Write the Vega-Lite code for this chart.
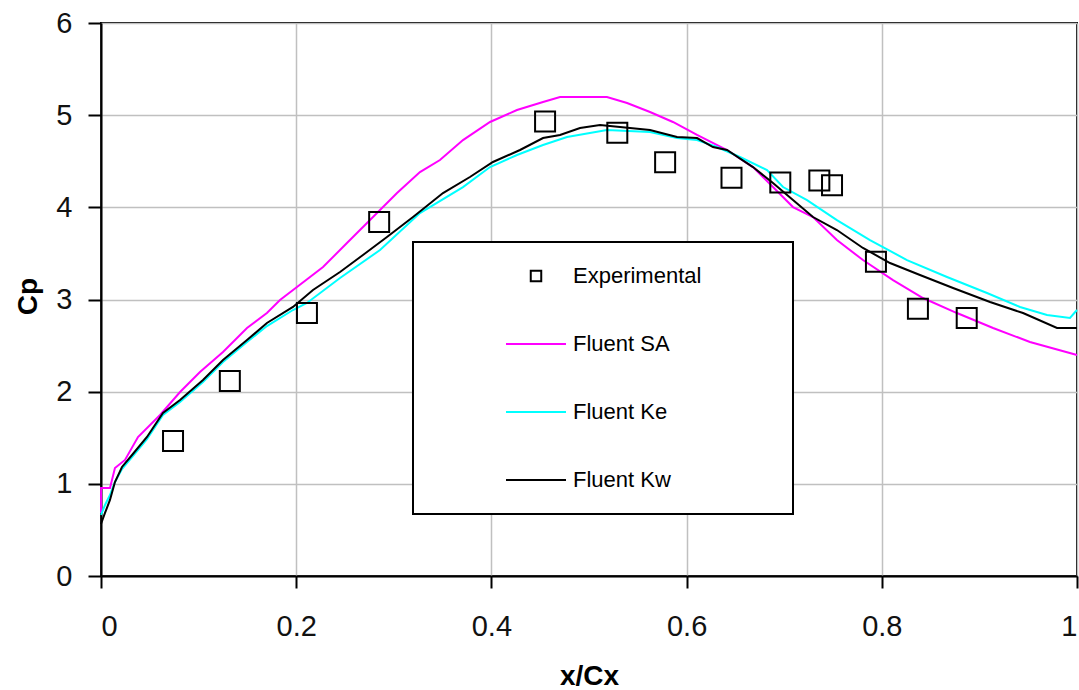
{
  "$schema": "https://vega.github.io/schema/vega-lite/v6.json",
  "width": 976,
  "height": 553,
  "autosize": {"type": "none"},
  "padding": {"left": 101, "top": 23, "right": 2, "bottom": 114},
  "background": "white",
  "config": {
    "view": {"stroke": "black", "strokeWidth": 2},
    "font": "Liberation Sans",
    "axis": {
      "gridColor": "#c0c0c0",
      "gridWidth": 1.5,
      "domainColor": "black",
      "domainWidth": 2,
      "tickColor": "black",
      "tickWidth": 2,
      "labelFont": "Liberation Sans",
      "labelFontSize": 29,
      "labelColor": "#111111",
      "titleFont": "Liberation Sans",
      "titleFontSize": 28,
      "titleFontWeight": "bold",
      "titleColor": "black"
    }
  },
  "datasets": {
    "curves": [
      {"series": "Fluent SA", "x": 0, "cp": 0.684},
      {"series": "Fluent SA", "x": 0.0001, "cp": 0.955},
      {"series": "Fluent SA", "x": 0.0092, "cp": 0.955},
      {"series": "Fluent SA", "x": 0.0143, "cp": 1.172},
      {"series": "Fluent SA", "x": 0.0246, "cp": 1.259},
      {"series": "Fluent SA", "x": 0.0379, "cp": 1.508},
      {"series": "Fluent SA", "x": 0.0605, "cp": 1.747},
      {"series": "Fluent SA", "x": 0.081, "cp": 1.996},
      {"series": "Fluent SA", "x": 0.1014, "cp": 2.213},
      {"series": "Fluent SA", "x": 0.125, "cp": 2.43},
      {"series": "Fluent SA", "x": 0.1496, "cp": 2.691},
      {"series": "Fluent SA", "x": 0.17, "cp": 2.853},
      {"series": "Fluent SA", "x": 0.1834, "cp": 2.994},
      {"series": "Fluent SA", "x": 0.2008, "cp": 3.136},
      {"series": "Fluent SA", "x": 0.2275, "cp": 3.352},
      {"series": "Fluent SA", "x": 0.252, "cp": 3.613},
      {"series": "Fluent SA", "x": 0.2787, "cp": 3.895},
      {"series": "Fluent SA", "x": 0.3033, "cp": 4.155},
      {"series": "Fluent SA", "x": 0.3268, "cp": 4.383},
      {"series": "Fluent SA", "x": 0.3473, "cp": 4.513},
      {"series": "Fluent SA", "x": 0.3709, "cp": 4.73},
      {"series": "Fluent SA", "x": 0.3986, "cp": 4.926},
      {"series": "Fluent SA", "x": 0.4262, "cp": 5.056},
      {"series": "Fluent SA", "x": 0.4529, "cp": 5.143},
      {"series": "Fluent SA", "x": 0.4703, "cp": 5.197},
      {"series": "Fluent SA", "x": 0.5184, "cp": 5.197},
      {"series": "Fluent SA", "x": 0.539, "cp": 5.132},
      {"series": "Fluent SA", "x": 0.5625, "cp": 5.034},
      {"series": "Fluent SA", "x": 0.586, "cp": 4.926},
      {"series": "Fluent SA", "x": 0.6107, "cp": 4.785},
      {"series": "Fluent SA", "x": 0.6414, "cp": 4.622},
      {"series": "Fluent SA", "x": 0.668, "cp": 4.437},
      {"series": "Fluent SA", "x": 0.6885, "cp": 4.22},
      {"series": "Fluent SA", "x": 0.709, "cp": 4.003},
      {"series": "Fluent SA", "x": 0.7295, "cp": 3.895},
      {"series": "Fluent SA", "x": 0.754, "cp": 3.645},
      {"series": "Fluent SA", "x": 0.7807, "cp": 3.428},
      {"series": "Fluent SA", "x": 0.8115, "cp": 3.211},
      {"series": "Fluent SA", "x": 0.8422, "cp": 3.016},
      {"series": "Fluent SA", "x": 0.877, "cp": 2.853},
      {"series": "Fluent SA", "x": 0.914, "cp": 2.691},
      {"series": "Fluent SA", "x": 0.9518, "cp": 2.539},
      {"series": "Fluent SA", "x": 1.0, "cp": 2.398},
      {"series": "Fluent Ke", "x": 0, "cp": 0.662},
      {"series": "Fluent Ke", "x": 0.0041, "cp": 0.77},
      {"series": "Fluent Ke", "x": 0.0092, "cp": 0.879},
      {"series": "Fluent Ke", "x": 0.0143, "cp": 1.02},
      {"series": "Fluent Ke", "x": 0.0215, "cp": 1.161},
      {"series": "Fluent Ke", "x": 0.0318, "cp": 1.291},
      {"series": "Fluent Ke", "x": 0.0471, "cp": 1.486},
      {"series": "Fluent Ke", "x": 0.0635, "cp": 1.747},
      {"series": "Fluent Ke", "x": 0.081, "cp": 1.888},
      {"series": "Fluent Ke", "x": 0.1045, "cp": 2.105},
      {"series": "Fluent Ke", "x": 0.125, "cp": 2.322},
      {"series": "Fluent Ke", "x": 0.1496, "cp": 2.539},
      {"series": "Fluent Ke", "x": 0.17, "cp": 2.712},
      {"series": "Fluent Ke", "x": 0.1967, "cp": 2.886},
      {"series": "Fluent Ke", "x": 0.211, "cp": 2.962},
      {"series": "Fluent Ke", "x": 0.2449, "cp": 3.233},
      {"series": "Fluent Ke", "x": 0.2859, "cp": 3.537},
      {"series": "Fluent Ke", "x": 0.3268, "cp": 3.938},
      {"series": "Fluent Ke", "x": 0.3709, "cp": 4.22},
      {"series": "Fluent Ke", "x": 0.3986, "cp": 4.437},
      {"series": "Fluent Ke", "x": 0.4262, "cp": 4.568},
      {"series": "Fluent Ke", "x": 0.4529, "cp": 4.676},
      {"series": "Fluent Ke", "x": 0.4775, "cp": 4.763},
      {"series": "Fluent Ke", "x": 0.5184, "cp": 4.839},
      {"series": "Fluent Ke", "x": 0.5625, "cp": 4.817},
      {"series": "Fluent Ke", "x": 0.5902, "cp": 4.752},
      {"series": "Fluent Ke", "x": 0.6107, "cp": 4.73},
      {"series": "Fluent Ke", "x": 0.6311, "cp": 4.654},
      {"series": "Fluent Ke", "x": 0.6547, "cp": 4.546},
      {"series": "Fluent Ke", "x": 0.6824, "cp": 4.405},
      {"series": "Fluent Ke", "x": 0.6988, "cp": 4.22},
      {"series": "Fluent Ke", "x": 0.7234, "cp": 4.079},
      {"series": "Fluent Ke", "x": 0.754, "cp": 3.862},
      {"series": "Fluent Ke", "x": 0.7879, "cp": 3.645},
      {"series": "Fluent Ke", "x": 0.8258, "cp": 3.428},
      {"series": "Fluent Ke", "x": 0.8668, "cp": 3.244},
      {"series": "Fluent Ke", "x": 0.9078, "cp": 3.07},
      {"series": "Fluent Ke", "x": 0.9416, "cp": 2.919},
      {"series": "Fluent Ke", "x": 0.9693, "cp": 2.832},
      {"series": "Fluent Ke", "x": 0.9928, "cp": 2.799},
      {"series": "Fluent Ke", "x": 1.0, "cp": 2.886},
      {"series": "Fluent Kw", "x": 0, "cp": 0.564},
      {"series": "Fluent Kw", "x": 0.0041, "cp": 0.684},
      {"series": "Fluent Kw", "x": 0.0092, "cp": 0.825},
      {"series": "Fluent Kw", "x": 0.0143, "cp": 1.02},
      {"series": "Fluent Kw", "x": 0.0215, "cp": 1.183},
      {"series": "Fluent Kw", "x": 0.0318, "cp": 1.313},
      {"series": "Fluent Kw", "x": 0.0471, "cp": 1.508},
      {"series": "Fluent Kw", "x": 0.0635, "cp": 1.768},
      {"series": "Fluent Kw", "x": 0.081, "cp": 1.91},
      {"series": "Fluent Kw", "x": 0.1045, "cp": 2.127},
      {"series": "Fluent Kw", "x": 0.125, "cp": 2.343},
      {"series": "Fluent Kw", "x": 0.1496, "cp": 2.56},
      {"series": "Fluent Kw", "x": 0.17, "cp": 2.745},
      {"series": "Fluent Kw", "x": 0.1967, "cp": 2.919},
      {"series": "Fluent Kw", "x": 0.2172, "cp": 3.103},
      {"series": "Fluent Kw", "x": 0.2449, "cp": 3.298},
      {"series": "Fluent Kw", "x": 0.2684, "cp": 3.483},
      {"series": "Fluent Kw", "x": 0.293, "cp": 3.678},
      {"series": "Fluent Kw", "x": 0.3197, "cp": 3.895},
      {"series": "Fluent Kw", "x": 0.3504, "cp": 4.155},
      {"series": "Fluent Kw", "x": 0.378, "cp": 4.329},
      {"series": "Fluent Kw", "x": 0.4016, "cp": 4.492},
      {"series": "Fluent Kw", "x": 0.4293, "cp": 4.622},
      {"series": "Fluent Kw", "x": 0.4529, "cp": 4.752},
      {"series": "Fluent Kw", "x": 0.4703, "cp": 4.785},
      {"series": "Fluent Kw", "x": 0.4908, "cp": 4.861},
      {"series": "Fluent Kw", "x": 0.5113, "cp": 4.893},
      {"series": "Fluent Kw", "x": 0.5625, "cp": 4.839},
      {"series": "Fluent Kw", "x": 0.5902, "cp": 4.763},
      {"series": "Fluent Kw", "x": 0.6107, "cp": 4.752},
      {"series": "Fluent Kw", "x": 0.627, "cp": 4.654},
      {"series": "Fluent Kw", "x": 0.6414, "cp": 4.622},
      {"series": "Fluent Kw", "x": 0.668, "cp": 4.437},
      {"series": "Fluent Kw", "x": 0.6885, "cp": 4.264},
      {"series": "Fluent Kw", "x": 0.709, "cp": 4.079},
      {"series": "Fluent Kw", "x": 0.7295, "cp": 3.895},
      {"series": "Fluent Kw", "x": 0.754, "cp": 3.754},
      {"series": "Fluent Kw", "x": 0.7807, "cp": 3.559},
      {"series": "Fluent Kw", "x": 0.8084, "cp": 3.396},
      {"series": "Fluent Kw", "x": 0.8391, "cp": 3.266},
      {"series": "Fluent Kw", "x": 0.873, "cp": 3.125},
      {"series": "Fluent Kw", "x": 0.9109, "cp": 2.973},
      {"series": "Fluent Kw", "x": 0.9447, "cp": 2.853},
      {"series": "Fluent Kw", "x": 0.9795, "cp": 2.691},
      {"series": "Fluent Kw", "x": 1.0, "cp": 2.691}
    ],
    "exp": [
      {"series": "Experimental", "x": 0.0738, "cp": 1.465},
      {"series": "Experimental", "x": 0.132, "cp": 2.116},
      {"series": "Experimental", "x": 0.211, "cp": 2.853},
      {"series": "Experimental", "x": 0.285, "cp": 3.84},
      {"series": "Experimental", "x": 0.455, "cp": 4.93},
      {"series": "Experimental", "x": 0.529, "cp": 4.81},
      {"series": "Experimental", "x": 0.578, "cp": 4.49},
      {"series": "Experimental", "x": 0.646, "cp": 4.32},
      {"series": "Experimental", "x": 0.696, "cp": 4.27},
      {"series": "Experimental", "x": 0.736, "cp": 4.29},
      {"series": "Experimental", "x": 0.749, "cp": 4.24},
      {"series": "Experimental", "x": 0.794, "cp": 3.41},
      {"series": "Experimental", "x": 0.837, "cp": 2.9},
      {"series": "Experimental", "x": 0.887, "cp": 2.8}
    ]
  },
  "encoding": {
    "x": {
      "field": "x", "type": "quantitative",
      "scale": {"domain": [0, 1], "nice": false, "zero": false},
      "axis": {
        "title": "x/Cx",
        "values": [0, 0.2, 0.4, 0.6, 0.8, 1],
        "format": ".1~f",
        "tickSize": 12,
        "labelPadding": 24,
        "titleX": 488,
        "titleY": 100,
        "titleBaseline": "middle",
        "titleAlign": "center"
      }
    },
    "y": {
      "field": "cp", "type": "quantitative",
      "scale": {"domain": [0, 6], "nice": false},
      "axis": {
        "title": "Cp",
        "values": [0, 1, 2, 3, 4, 5, 6],
        "format": "d",
        "tickSize": 13,
        "labelPadding": 16,
        "titleX": -73,
        "titleY": 273,
        "titleBaseline": "middle",
        "titleAlign": "center",
        "titleAngle": -90
      }
    }
  },
  "layer": [
    {
      "data": {"name": "curves"},
      "mark": {"type": "line", "strokeWidth": 2, "interpolate": "linear"},
      "encoding": {
        "color": {
          "field": "series", "type": "nominal",
          "scale": {
            "domain": ["Experimental", "Fluent SA", "Fluent Ke", "Fluent Kw"],
            "range": ["black", "#ff00ff", "#00ffff", "black"]
          },
          "legend": {
            "orient": "none",
            "legendX": 312,
            "legendY": 219,
            "title": " ",
            "titleOrient": "right",
            "titlePadding": 70,
            "titleFontSize": 10,
            "padding": 22,
            "strokeColor": "black",
            "fillColor": "white",
            "symbolType": "stroke",
            "symbolSize": 100,
            "symbolStrokeWidth": 2,
            "symbolOffset": 70,
            "labelOffset": 6,
            "clipHeight": 24,
            "rowPadding": 44,
            "labelFont": "Liberation Sans",
            "labelFontSize": 22,
            "labelColor": "black",
            "labelLimit": 400,
            "encode": {
              "legend": {"update": {"strokeWidth": {"value": 2}}},
              "symbols": {
                "update": {
                  "shape": {"signal": "datum.value === 'Experimental' ? 'square' : 'stroke'"},
                  "size": {"signal": "datum.value === 'Experimental' ? 110 : 3600"},
                  "fill": {"value": "transparent"}
                }
              }
            }
          }
        }
      }
    },
    {
      "data": {"name": "exp"},
      "mark": {"type": "point", "shape": "square", "size": 400, "filled": false, "stroke": "black", "strokeWidth": 2, "opacity": 1}
    }
  ]
}
